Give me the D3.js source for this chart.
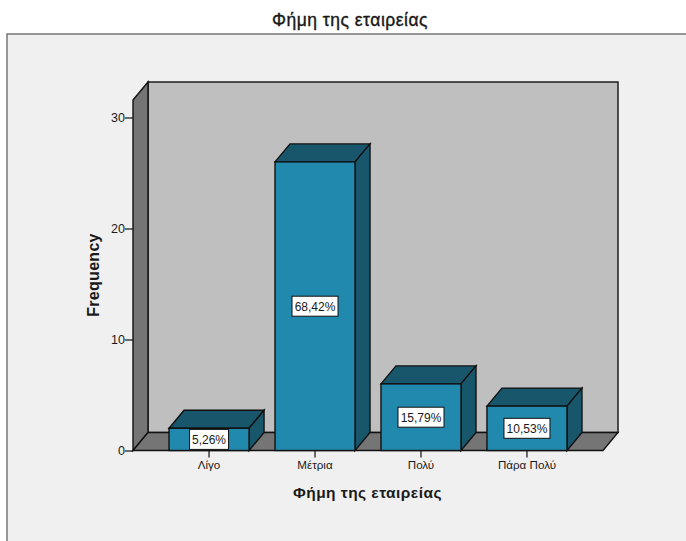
<!DOCTYPE html>
<html>
<head>
<meta charset="utf-8">
<script src="https://cdn.jsdelivr.net/npm/d3@7"></script>
<style>
  html, body { margin: 0; padding: 0; background: #fff; overflow: hidden; }
  text { font-family: "Liberation Sans", Arial, sans-serif; fill: #1a1a1a; }
</style>
</head>
<body>
<svg width="686" height="541"></svg>
<script>
// Values
const categories = ["Λίγο", "Μέτρια", "Πολύ", "Πάρα Πολύ"];
const frequencies = [2, 26, 6, 4];
const percentLabels = ["5,26%", "68,42%", "15,79%", "10,53%"];
const yTicks = [0, 10, 20, 30];

const svg = d3.select("svg");

// Front plane of the 3D box, and how far the back wall is pushed
const plotLeft = 133, plotRight = 603, plotBottom = 450.5, plotTop = 100;
const depthX = 15, depthY = 18;
const lineColor = "#111";

// Grey panel behind the chart
svg.append("rect")
    .attr("x", 7).attr("y", 34)
    .attr("width", 700).attr("height", 540)
    .attr("fill", "#f0f0f0")
    .attr("stroke", "#6e6e6e")
    .attr("stroke-width", 1.4);

svg.append("text")
    .attr("x", 350).attr("y", 26)
    .attr("text-anchor", "middle")
    .attr("font-size", 17.5)
    .attr("letter-spacing", 0.5)
    .attr("stroke", "#111").attr("stroke-width", 0.35)
    .text("Φήμη της εταιρείας");

const x = d3.scaleBand()
    .domain(categories)
    .range([plotLeft, plotRight])
    .paddingInner(0.245)
    .paddingOuter(0.34);

const y = d3.scaleLinear()
    .domain([0, 30])
    .range([plotBottom, 117.5]);

const poly = pts => pts.map(p => p.join(",")).join(" ");

const g = svg.append("g");

// Back wall
g.append("rect")
    .attr("x", plotLeft + depthX).attr("y", plotTop - depthY)
    .attr("width", plotRight - plotLeft).attr("height", plotBottom - plotTop)
    .attr("fill", "#bfbfbf").attr("stroke", lineColor).attr("stroke-width", 1.4);

// Side wall
g.append("polygon")
    .attr("points", poly([[plotLeft, plotTop], [plotLeft + depthX, plotTop - depthY], [plotLeft + depthX, plotBottom - depthY], [plotLeft, plotBottom]]))
    .attr("fill", "#757575").attr("stroke", lineColor).attr("stroke-width", 1.4);

// Floor
g.append("polygon")
    .attr("points", poly([[plotLeft, plotBottom], [plotLeft + depthX, plotBottom - depthY], [plotRight + depthX, plotBottom - depthY], [plotRight, plotBottom]]))
    .attr("fill", "#757575").attr("stroke", lineColor).attr("stroke-width", 1.4);

// Bars with top and side faces
const bars = g.selectAll(".bar")
    .data(categories)
    .enter().append("g")
    .attr("class", "bar");

bars.each(function (c, i) {
    const b = d3.select(this);
    const x0 = x(c), x1 = x0 + x.bandwidth(), yt = y(frequencies[i]);

    b.append("polygon")
        .attr("points", poly([[x0, yt], [x0 + depthX, yt - depthY], [x1 + depthX, yt - depthY], [x1, yt]]))
        .attr("fill", "#18566b").attr("stroke", lineColor).attr("stroke-width", 1.4);
    b.append("polygon")
        .attr("points", poly([[x1, yt], [x1 + depthX, yt - depthY], [x1 + depthX, plotBottom - depthY], [x1, plotBottom]]))
        .attr("fill", "#18566b").attr("stroke", lineColor).attr("stroke-width", 1.4);
    b.append("rect")
        .attr("x", x0).attr("y", yt)
        .attr("width", x.bandwidth()).attr("height", plotBottom - yt)
        .attr("fill", "#2289ae").attr("stroke", lineColor).attr("stroke-width", 1.4);

    // Percent label box in the middle of the front face
    const cx = x0 + x.bandwidth() / 2, cy = (yt + plotBottom) / 2;
    const w = percentLabels[i].length > 5 ? 46 : 39;
    b.append("rect")
        .attr("x", cx - w / 2).attr("y", cy - 10)
        .attr("width", w).attr("height", 20)
        .attr("fill", "#fff").attr("stroke", lineColor).attr("stroke-width", 1);
    b.append("text")
        .attr("x", cx).attr("y", cy + 4.5)
        .attr("text-anchor", "middle")
        .attr("font-size", 12)
        .text(percentLabels[i]);
});

// Left axis
const yAxis = g.append("g")
    .attr("transform", `translate(${plotLeft},0)`)
    .call(d3.axisLeft(y).tickValues(yTicks).tickSize(8).tickPadding(0));
yAxis.select(".domain").remove();
yAxis.selectAll("line").attr("stroke", lineColor).attr("stroke-width", 1.2);
yAxis.selectAll("text").attr("font-size", 12.5).attr("font-family", "Liberation Sans").attr("fill", "#1a1a1a");

// Bottom axis
const xAxis = g.append("g")
    .attr("transform", `translate(0,${plotBottom})`)
    .call(d3.axisBottom(x).tickSize(7).tickPadding(3));
xAxis.select(".domain").remove();
xAxis.selectAll("line").attr("stroke", lineColor).attr("stroke-width", 1.2);
xAxis.selectAll("text").attr("font-size", 11.6).attr("font-family", "Liberation Sans").attr("fill", "#1a1a1a");

// Axis titles
svg.append("text")
    .attr("x", 367.5).attr("y", 497.5)
    .attr("text-anchor", "middle")
    .attr("font-size", 15.5)
    .attr("font-weight", "bold")
    .attr("letter-spacing", 0.45)
    .text("Φήμη της εταιρείας");

svg.append("text")
    .attr("transform", "translate(99,275) rotate(-90)")
    .attr("text-anchor", "middle")
    .attr("font-size", 16)
    .attr("font-weight", "bold")
    .attr("letter-spacing", 0.3)
    .text("Frequency");
</script>
</body>
</html>
